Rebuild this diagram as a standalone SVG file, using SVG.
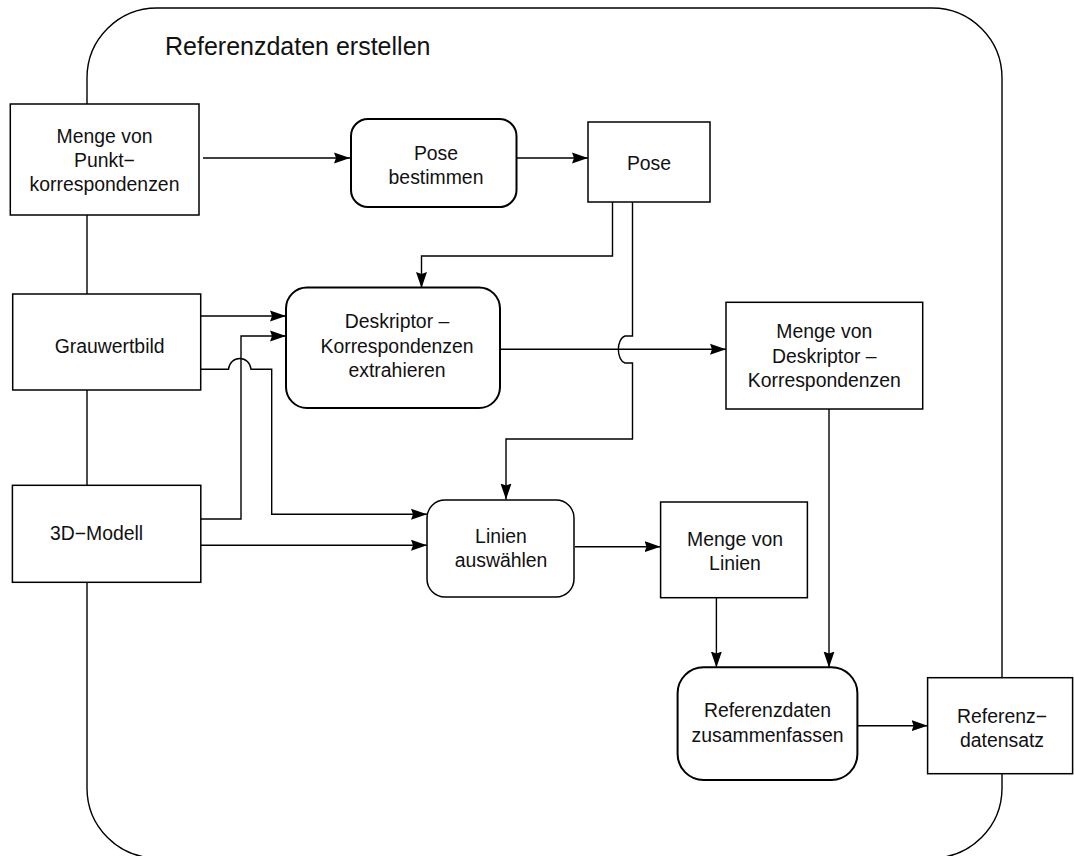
<svg xmlns="http://www.w3.org/2000/svg" width="1074" height="856" viewBox="0 0 1074 856">
  <defs>
    <marker id="arrow" markerUnits="userSpaceOnUse" markerWidth="17" markerHeight="14" viewBox="0 0 17 14" refX="16" refY="7" orient="auto">
      <path d="M0,1.5 L16,7 L0,12.5 L2,7 Z" fill="#000"/>
    </marker>
  </defs>
  <style>
    .frame { fill: none; stroke: #000; stroke-width: 1.4; }
    .data { fill: #fff; stroke: #000; stroke-width: 1.5; }
    .proc { fill: #fff; stroke: #000; stroke-width: 2; }
    .proc.thin { stroke-width: 1.5; }
    .edge { fill: none; stroke: #000; stroke-width: 1.4; }
    .arr { marker-end: url(#arrow); }
    text { font-family: "Liberation Sans", Arial, Helvetica, sans-serif; font-size: 19.4px; fill: #111; text-anchor: middle; }
    .title { font-size: 25px; text-anchor: start; }
  </style>

  <rect width="1074" height="856" fill="#fff"/>

  <!-- process frame -->
  <g id="frame">
    <rect class="frame" x="87" y="8" width="915" height="850" rx="70" ry="70"/>
    <text class="title" x="165" y="55">Referenzdaten erstellen</text>
  </g>

  <!-- connectors -->
  <g id="connectors">
    <path class="edge arr" d="M203,158 H350"/>
    <path class="edge arr" d="M517,158 H588"/>
    <path class="edge arr" d="M612.5,202 V256 H421.5 V288"/>
    <path class="edge arr" d="M632.5,202 V336 H625 A8,13.7 0 0 0 625,363 H632.5 V439 H506 V499.5"/>
    <path class="edge arr" d="M201,316 H286"/>
    <path class="edge arr" d="M201,519 H241 V336 H286"/>
    <path class="edge arr" d="M201,369.3 H228.5 A11.3,12 0 0 1 251,369.3 H271.7 V514.3 H427"/>
    <path class="edge arr" d="M201,545.3 H427"/>
    <path class="edge arr" d="M501,349.3 H726"/>
    <path class="edge arr" d="M575,546.7 H660.5"/>
    <path class="edge arr" d="M716.4,598 V667.5"/>
    <path class="edge arr" d="M829,409 V667.5"/>
    <path class="edge arr" d="M858,725.7 H927.6"/>
  </g>

  <g id="punktkorrespondenzen">
    <rect class="data" x="10.3" y="104" width="188.7" height="111"/>
    <text x="104.5" y="143">Menge von</text>
    <text x="104.5" y="166.5">Punkt−</text>
    <text x="104.5" y="190.7">korrespondenzen</text>
  </g>

  <g id="pose-bestimmen">
    <rect class="proc" x="351" y="119" width="165.5" height="88" rx="17" ry="17"/>
    <text x="436" y="160">Pose</text>
    <text x="436" y="183.5">bestimmen</text>
  </g>

  <g id="pose">
    <rect class="data" x="588" y="122" width="122" height="80"/>
    <text x="649" y="170">Pose</text>
  </g>

  <g id="grauwertbild">
    <rect class="data" x="12.7" y="294" width="188" height="96"/>
    <text x="109.6" y="352.7">Grauwertbild</text>
  </g>

  <g id="deskriptor-extrahieren">
    <rect class="proc" x="286" y="287.5" width="214" height="120.5" rx="21" ry="21"/>
    <text x="397" y="328.3">Deskriptor –</text>
    <text x="397" y="352.7">Korrespondenzen</text>
    <text x="397" y="376.7">extrahieren</text>
  </g>

  <g id="deskriptor-korrespondenzen">
    <rect class="data" x="726" y="302.3" width="196.7" height="106.7"/>
    <text x="824.3" y="338.3">Menge von</text>
    <text x="824.3" y="363.3">Deskriptor –</text>
    <text x="824.3" y="386.7">Korrespondenzen</text>
  </g>

  <g id="modell">
    <rect class="data" x="12.4" y="485.3" width="188.4" height="97"/>
    <text x="96.5" y="540">3D−Modell</text>
  </g>

  <g id="linien-auswaehlen">
    <rect class="proc thin" x="427" y="500" width="147" height="97" rx="18" ry="18"/>
    <text x="501" y="542.5">Linien</text>
    <text x="501" y="566.7">auswählen</text>
  </g>

  <g id="menge-linien">
    <rect class="data" x="660.6" y="502" width="146.8" height="95.7"/>
    <text x="735" y="546">Menge von</text>
    <text x="735" y="570">Linien</text>
  </g>

  <g id="zusammenfassen">
    <rect class="proc" x="677.6" y="667.3" width="179.8" height="112.7" rx="26" ry="26"/>
    <text x="767.5" y="716.7">Referenzdaten</text>
    <text x="767.5" y="741.7">zusammenfassen</text>
  </g>

  <g id="referenzdatensatz">
    <rect class="data" x="927.6" y="677.7" width="145" height="96"/>
    <text x="1002" y="723.3">Referenz−</text>
    <text x="1002" y="746.7">datensatz</text>
  </g>
</svg>
